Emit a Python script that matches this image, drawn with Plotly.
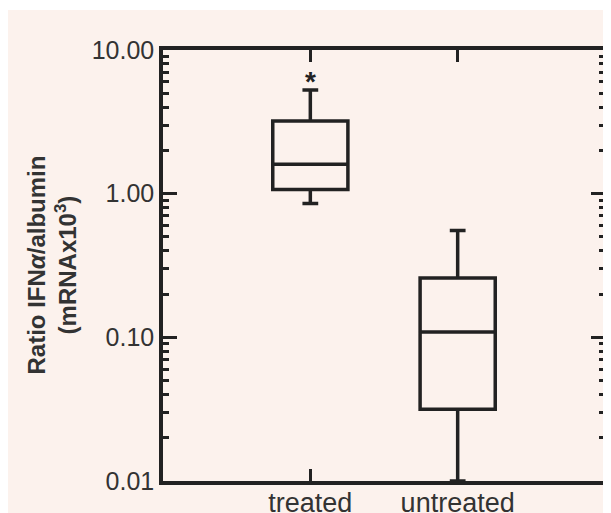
import math
import plotly.graph_objects as go

categories = ["treated", "untreated"]
q1 = [1.07, 0.0316]
median = [1.60, 0.109]
q3 = [3.21, 0.259]
lowerfence = [0.855, 0.01]
upperfence = [5.26, 0.555]
ytick_vals = [0.01, 0.1, 1, 10]
ytick_text = ["0.01", "0.10", "1.00", "10.00"]
star_label = "*"
star_value = 6.0

PINK = "#fcf2ed"
INK = "#222222"
FONT = "Arial, Liberation Sans, sans-serif"

# figure is drawn inside the page's default 8px body margin
W, H = 603, 505
L, R, T, B = 155, 6, 42, 32
PW, PH = W - L - R, H - T - B

fig = go.Figure()
fig.add_trace(go.Box(
    x=categories, q1=q1, median=median, q3=q3,
    lowerfence=lowerfence, upperfence=upperfence,
    width=0.51, whiskerwidth=0.21,
    line=dict(color=INK, width=3.5), fillcolor="rgba(0,0,0,0)",
    boxpoints=False, showlegend=False, hoverinfo="skip",
))

fig.add_annotation(x=categories[0], y=math.log10(star_value), xref="x", yref="y",
                   text="<b>" + star_label + "</b>", showarrow=False,
                   font=dict(family=FONT, size=28, color=INK), yanchor="middle")

fig.add_annotation(xref="paper", yref="paper", x=(43 - L) / PW, y=0.5,
                   text="<b>Ratio IFN<i>α</i>/albumin<br>(mRNAx10<sup>3</sup>)</b>",
                   textangle=-90, showarrow=False, xanchor="center", yanchor="middle",
                   font=dict(family=FONT, size=24, color="#333333"))

# thin white strip at the top of the pink panel
fig.add_shape(type="rect", xref="paper", yref="paper", x0=-1, x1=2,
              y0=(PH + T - 2) / PH, y1=2, fillcolor="white", line_width=0, layer="below")

fig.update_layout(
    width=W, height=H,
    margin=dict(l=L, r=R, t=T, b=B, autoexpand=False),
    paper_bgcolor=PINK, plot_bgcolor=PINK,
    font=dict(family=FONT, color="#333333"),
    xaxis=dict(type="category", range=[-1, 2], showline=True, linecolor=INK, linewidth=3.5,
               mirror="ticks", ticks="inside", ticklen=12, tickwidth=3, tickcolor=INK,
               showgrid=False, zeroline=False, automargin=False, ticklabelstandoff=-5,
               tickfont=dict(size=27, color="#333333")),
    yaxis=dict(type="log", range=[-2, 1], showline=True, linecolor=INK, linewidth=3.5,
               mirror="ticks", ticks="inside", ticklen=14, tickwidth=3, tickcolor=INK,
               tickvals=ytick_vals, ticktext=ytick_text, showgrid=False, zeroline=False,
               automargin=False, tickfont=dict(size=25, color="#333333"),
               minor=dict(ticks="inside", ticklen=6, tickwidth=2.5, tickcolor=INK,
                          dtick="D1", showgrid=False)),
)

fig.write_html("out.html")
